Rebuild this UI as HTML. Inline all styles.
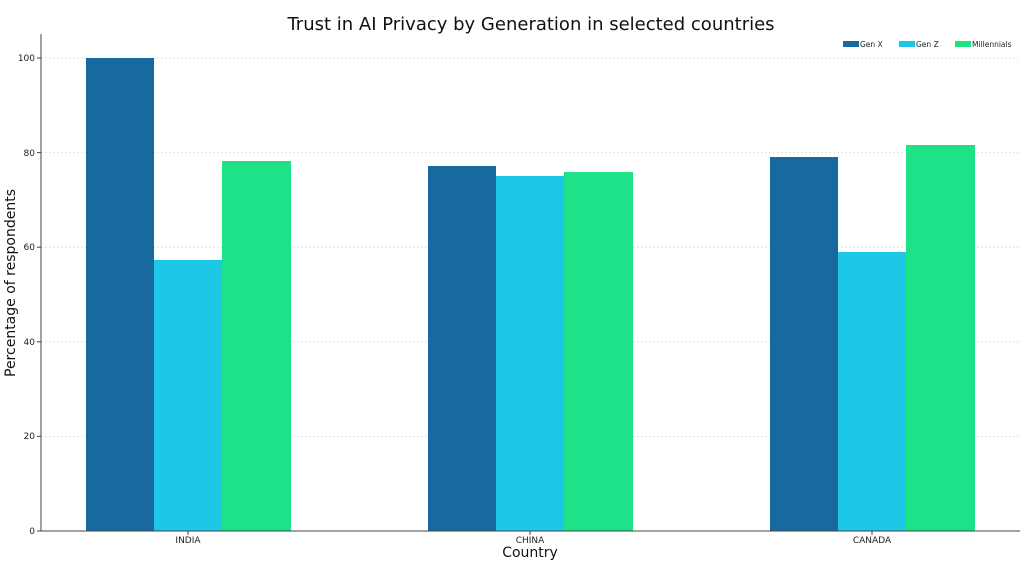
<!DOCTYPE html>
<html><head><style>body{margin:0;background:#fff}svg{display:block;font-family:"DejaVu Sans","Liberation Sans",sans-serif}</style></head>
<body>
<svg width="1024" height="576" viewBox="0 0 1024 576">
<text x="531" y="30" font-size="18" text-anchor="middle" fill="#111">Trust in AI Privacy by Generation in selected countries</text>
<g stroke="#ddd" stroke-width="0.8" stroke-dasharray="2,2">
<line x1="41" x2="1020" y1="58" y2="58"/><line x1="41" x2="1020" y1="152.6" y2="152.6"/><line x1="41" x2="1020" y1="247.2" y2="247.2"/><line x1="41" x2="1020" y1="341.8" y2="341.8"/><line x1="41" x2="1020" y1="436.4" y2="436.4"/>
</g>
<g fill="#17699f">
<rect x="86" y="58" width="68" height="473"/><rect x="428" y="166" width="68" height="365"/><rect x="770" y="157" width="68" height="374"/></g>
<g fill="#1cc8e6">
<rect x="154" y="260" width="68" height="271"/><rect x="496" y="176" width="68" height="355"/><rect x="838" y="252" width="68" height="279"/></g>
<g fill="#1de288">
<rect x="222" y="161" width="69" height="370"/><rect x="564" y="172" width="69" height="359"/><rect x="906" y="145" width="69" height="386"/></g>
<g stroke="#444" stroke-width="1"><line x1="41" y1="34" x2="41" y2="531"/><line x1="41" y1="531" x2="1020" y2="531"/>
<line x1="37" x2="41" y1="58" y2="58"/><line x1="37" x2="41" y1="152.6" y2="152.6"/><line x1="37" x2="41" y1="247.2" y2="247.2"/><line x1="37" x2="41" y1="341.8" y2="341.8"/><line x1="37" x2="41" y1="436.4" y2="436.4"/><line x1="37" x2="41" y1="531" y2="531"/>
<line x1="188" x2="188" y1="531" y2="535"/><line x1="530" x2="530" y1="531" y2="535"/><line x1="872" x2="872" y1="531" y2="535"/></g>
<g font-size="9" fill="#222" text-anchor="end">
<text x="35" y="61">100</text><text x="35" y="156">80</text><text x="35" y="250">60</text><text x="35" y="345">40</text><text x="35" y="439">20</text><text x="35" y="534">0</text></g>
<g font-size="9" fill="#222" text-anchor="middle">
<text x="188" y="543">INDIA</text><text x="530" y="543">CHINA</text><text x="872" y="543">CANADA</text></g>
<text x="530" y="557" font-size="14" text-anchor="middle" fill="#111">Country</text>
<text transform="translate(15,283) rotate(-90)" font-size="14" text-anchor="middle" fill="#111">Percentage of respondents</text>
<g font-size="7.5" fill="#222">
<rect x="843" y="41" width="16" height="6" fill="#17699f"/><text x="860" y="47">Gen X</text>
<rect x="899" y="41" width="16" height="6" fill="#1cc8e6"/><text x="916" y="47">Gen Z</text>
<rect x="955" y="41" width="16" height="6" fill="#1de288"/><text x="972" y="47">Millennials</text></g>
</svg>
</body></html>
